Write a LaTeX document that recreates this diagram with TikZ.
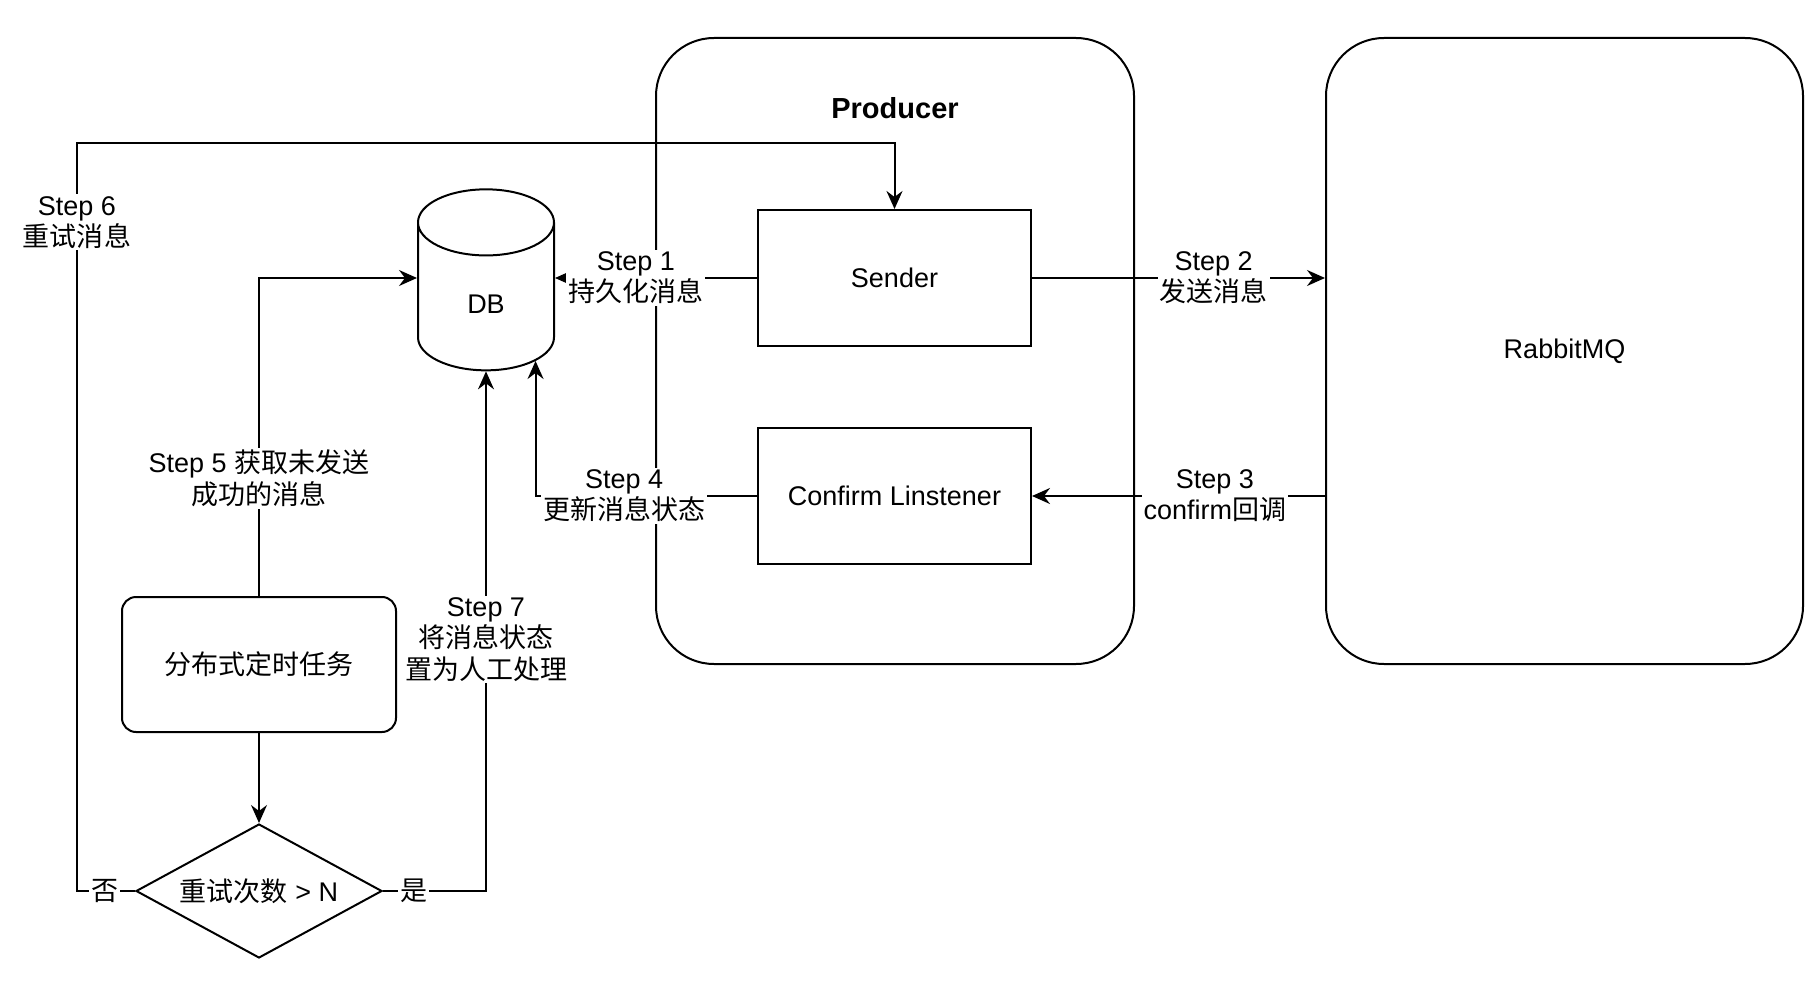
\documentclass[tikz,border=0pt]{standalone}
\usepackage{fontspec}
\setmainfont{Liberation Sans}
\newfontfamily\cjk{Noto Sans CJK SC}
\newcommand{\zh}[1]{{\cjk #1}}
\usetikzlibrary{arrows.meta, positioning, shapes.geometric}

\begin{document}
\begin{tikzpicture}[
    x=0.5pt, y=-0.5pt,
    every node/.style={font=\fontsize{13.5pt}{15.6pt}\selectfont, align=center},
    box/.style={rectangle, draw, line width=1pt, minimum width=136.5pt, minimum height=68pt},
    group/.style={rectangle, draw, line width=1pt, rounded corners=29pt, minimum width=239pt, minimum height=313pt},
    taskbox/.style={rectangle, draw, line width=1pt, rounded corners=7pt, minimum width=137pt, minimum height=67.5pt},
    decision/.style={diamond, draw, line width=1pt, aspect=1.84, inner sep=0pt, minimum width=123pt, minimum height=67pt},
    store/.style={cylinder, draw, line width=1pt, shape border rotate=90, aspect=1.3, minimum width=68pt, minimum height=90.5pt},
    arrow/.style={-{Stealth[length=9pt, width=8pt, inset=3pt]}, line width=1pt},
    lbl/.style={fill=white, inner sep=1pt}
    ]
\useasboundingbox (0,0) rectangle (1810,984);

% Nodes
\node (producer) [group] at (895,351) {};
\node (prodlabel) [below=26.5pt of producer.north, font=\bfseries\fontsize{14.5pt}{17pt}\selectfont] {Producer};
\node (rabbit) [group, minimum width=238.5pt] at (1564.5,351) {RabbitMQ};

\node (sender) [box] at (894.5,278) {Sender};
\node (confirm) [box] at (894.5,496) {Confirm Linstener};

\node (db) [store] at (486,304) {DB};

\node (task) [taskbox] at (259,664.5) {\zh{分布式定时任务}};
\node (retry) [decision] at (259,891) {\zh{重试次数} > N};
\coordinate (back) at (77,143);

% Arrows
\draw[arrow] (sender.west) -- node[lbl, pos=0.6] {Step 1\\\zh{持久化消息}} (sender.west -| db.east);
\draw[arrow] (sender.east) -- node[lbl, pos=0.62] {Step 2\\\zh{发送消息}} (sender.east -| rabbit.west);
\draw[arrow] (confirm.east -| rabbit.west) -- node[lbl, pos=0.376] {Step 3\\confirm\zh{回调}} (confirm.east);
\draw[arrow] (confirm.west) -| node[lbl, pos=0.3] {Step 4\\\zh{更新消息状态}} (db.-49);
\draw[arrow] (task.north) |- node[lbl, pos=0.185] {Step 5 \zh{获取未发送}\\\zh{成功的消息}} (sender.west -| db.west);
\draw[arrow] (task) -- (retry);
\draw[arrow] (retry.west) -| node[lbl, pos=0.26] {\zh{否}} node[lbl, pos=0.947] {Step 6\\\zh{重试消息}} (back) -| (sender.north);
\draw[arrow] (retry.east) -| node[lbl, pos=0.15] {\zh{是}} node[lbl, pos=0.742] {Step 7\\\zh{将消息状态}\\\zh{置为人工处理}} (db.south);

\end{tikzpicture}
\end{document}
